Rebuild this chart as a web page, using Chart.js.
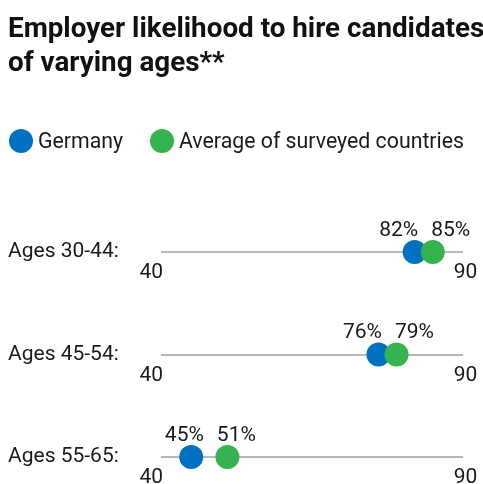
<!DOCTYPE html>
<html>
<head>
<meta charset="utf-8">
<script src="https://cdn.jsdelivr.net/npm/chart.js@4"></script>
<style>
  html, body { margin: 0; background: #fff; }
  #wrap { position: relative; width: 483px; height: 484px; overflow: hidden; font-family: Roboto, sans-serif; color: #1a1a1a; }
  #wrap canvas { position: absolute; left: 0; top: 0; }
  .title { position: absolute; left: 8px; top: 11px; font-size: 27.8px; font-weight: 700; line-height: 34px; white-space: nowrap; color: #111; }
  .legend { position: absolute; left: 9px; top: 129px; display: flex; font-size: 21.3px; line-height: 24px; }
  .legend .item { display: flex; align-items: center; }
  .legend .item:first-child { width: 141px; }
  .legend .dot { width: 24px; height: 24px; border-radius: 50%; margin-right: 5px; }
</style>
</head>
<body>
<div id="wrap">
  <canvas id="chart" width="483" height="484"></canvas>
  <div class="title">Employer likelihood to hire candidates<br>of varying ages**</div>
  <div class="legend" id="legend"></div>
</div>
<script>
const categories = ['Ages 30-44', 'Ages 45-54', 'Ages 55-65'];
const germany = [82, 76, 45];
const average = [85, 79, 51];
const axisTicks = [40, 90];
const seriesNames = ['Germany', 'Average of surveyed countries'];
const colors = ['#0070c0', '#34b350'];

// legend above the chart
const legend = document.getElementById('legend');
seriesNames.forEach((name, i) => {
    const item = document.createElement('div');
    item.className = 'item';
    item.innerHTML = '<span class="dot" style="background:' + colors[i] + '"></span><span>' + name + '</span>';
    legend.appendChild(item);
});

// percent labels above dots + 40/90 under each row
const rowLabels = {
    id: 'rowLabels',
    afterDatasetsDraw(chart) {
        const ctx = chart.ctx;
        const x = chart.scales.x;
        const y = chart.scales.y;
        ctx.save();
        ctx.font = '21px Roboto';
        ctx.fillStyle = '#1a1a1a';
        ctx.textBaseline = 'alphabetic';
        categories.forEach((c, i) => {
            const rowY = y.getPixelForValue(i);
            let a = x.getPixelForValue(germany[i]);
            let b = x.getPixelForValue(average[i]);
            if (b - a < 52) { // push labels apart so they don't collide
                const mid = (a + b) / 2;
                a = mid - 25;
                b = mid + 27;
            }
            ctx.textAlign = 'center';
            ctx.fillText(germany[i] + '%', a, rowY - 16.5);
            ctx.fillText(average[i] + '%', b, rowY - 16.5);

            ctx.textAlign = 'right';
            ctx.fillText(String(axisTicks[0]), x.getPixelForValue(axisTicks[0]) + 2, rowY + 26);
            ctx.textAlign = 'center';
            ctx.fillText(String(axisTicks[1]), x.getPixelForValue(axisTicks[1]) + 2.5, rowY + 26);
        });
        ctx.restore();
    }
};

new Chart(document.getElementById('chart'), {
    type: 'scatter',
    data: {
        datasets: [{
            label: seriesNames[1],
            data: average.map((v, i) => ({ x: v, y: categories[i] })),
            backgroundColor: colors[1],
            order: 0
        }, {
            label: seriesNames[0],
            data: germany.map((v, i) => ({ x: v, y: categories[i] })),
            backgroundColor: colors[0],
            order: 1
        }]
    },
    options: {
        responsive: false,
        animation: false,
        events: [],
        clip: false,
        elements: {
            point: { radius: 12, hoverRadius: 12, borderWidth: 0 }
        },
        layout: { padding: { left: 8, right: 20, top: 252, bottom: 27 } },
        plugins: {
            legend: { display: false },
            tooltip: { enabled: false }
        },
        scales: {
            x: { type: 'linear', min: axisTicks[0], max: axisTicks[1], display: false },
            y: {
                type: 'category',
                labels: categories,
                offset: false,
                grid: { color: '#b8b8b8', lineWidth: 2, drawTicks: false },
                border: { display: false },
                ticks: {
                    crossAlign: 'far',
                    padding: 0,
                    color: '#1a1a1a',
                    font: { family: 'Roboto', size: 21 },
                    callback: (v, i) => categories[i] + ':'
                },
                afterFit: (s) => { s.width = 153; }
            }
        }
    },
    plugins: [rowLabels]
});
</script>
</body>
</html>
